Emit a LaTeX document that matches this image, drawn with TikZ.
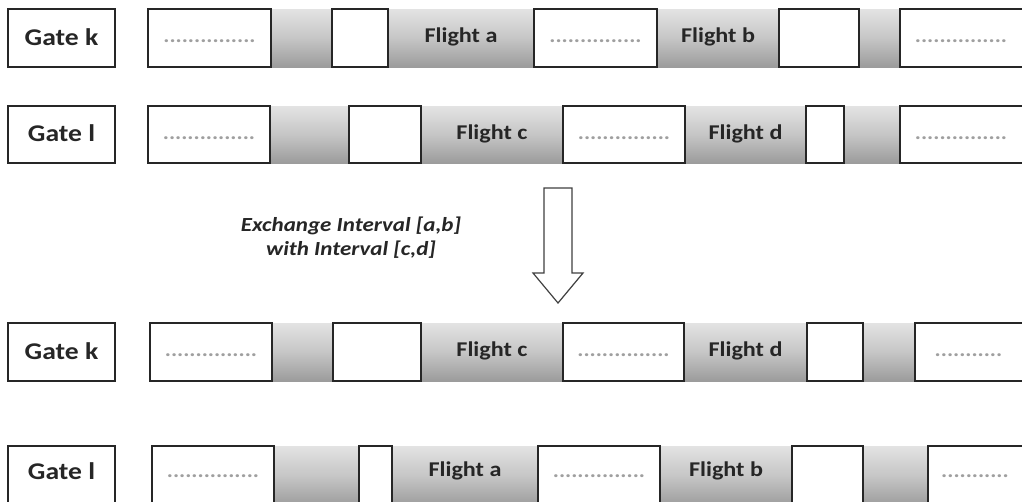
\documentclass[tikz,border=0pt]{standalone}
\usepackage{fontspec}
\setmainfont{Carlito}[FakeStretch=1.15]
\newcommand\cellbox[6]{\node[#5, minimum width={(#3-#2)*1pt}, minimum height={(#6)*1pt}] (#1) at (#2,#4) {};}
\newcommand\dotsA{...............}
\newcommand\dotsB{...........}
\begin{document}
\begin{tikzpicture}[x=1pt,y=-1pt,
  base/.style={anchor=north west, inner sep=0pt, outer sep=0pt},
  wbox/.style={base, draw=black!85, line width=1.3pt, fill=white},
  gbox/.style={base, top color=gray!22, bottom color=gray!78, middle color=gray!45},
  gate/.style={wbox},
  lbl/.style={font=\fontsize{21}{25}\selectfont\bfseries, text=black!85},
  gatelbl/.style={font=\fontsize{24}{28}\selectfont\bfseries, text=black!85},
  dotlbl/.style={font=\fontsize{20}{24}\selectfont\bfseries, text=gray!75}
]
\useasboundingbox (0,0) rectangle (1022,501);
\fill[white] (0,0) rectangle (1022,501);

% ---------- Row 1: Gate k ----------
\cellbox{g1}{8}{115}{9}{gate}{58}
\cellbox{r1g1}{271}{332}{9}{gbox}{58}
\cellbox{r1g2}{388}{534}{9}{gbox}{58}
\cellbox{r1g3}{657}{779}{9}{gbox}{58}
\cellbox{r1g4}{859}{900}{9}{gbox}{58}
\cellbox{r1w1}{148}{271}{9}{wbox}{58}
\cellbox{r1w2}{332}{388}{9}{wbox}{58}
\cellbox{r1w3}{534}{657}{9}{wbox}{58}
\cellbox{r1w4}{779}{859}{9}{wbox}{58}
\cellbox{r1w5}{900}{1026}{9}{wbox}{58}
\node[gatelbl] at ([yshift=1pt]g1.center) {Gate k};
\node[lbl] at ([yshift=1pt]r1g2.center) {Flight a};
\node[lbl] at ([yshift=1pt]r1g3.center) {Flight b};
\node[dotlbl] at (r1w1.center) {\vphantom{Gg}\dotsA};
\node[dotlbl] at (r1w3.center) {\vphantom{Gg}\dotsA};
\node[dotlbl] at ([xshift=-2pt]r1w5.center) {\vphantom{Gg}\dotsA};

% ---------- Row 2: Gate l ----------
\cellbox{g2}{8}{115}{106}{gate}{57}
\cellbox{r2g1}{270}{349}{106}{gbox}{57}
\cellbox{r2g2}{421}{563}{106}{gbox}{57}
\cellbox{r2g3}{685}{806}{106}{gbox}{57}
\cellbox{r2g4}{844}{900}{106}{gbox}{57}
\cellbox{r2w1}{148}{270}{106}{wbox}{57}
\cellbox{r2w2}{349}{421}{106}{wbox}{57}
\cellbox{r2w3}{563}{685}{106}{wbox}{57}
\cellbox{r2w4}{806}{844}{106}{wbox}{57}
\cellbox{r2w5}{900}{1026}{106}{wbox}{57}
\node[gatelbl] at ([yshift=1pt]g2.center) {Gate l};
\node[lbl] at ([yshift=1pt]r2g2.center) {Flight c};
\node[lbl] at ([yshift=1pt]r2g3.center) {Flight d};
\node[dotlbl] at (r2w1.center) {\vphantom{Gg}\dotsA};
\node[dotlbl] at (r2w3.center) {\vphantom{Gg}\dotsA};
\node[dotlbl] at ([xshift=-2pt]r2w5.center) {\vphantom{Gg}\dotsA};

% ---------- Arrow and caption ----------
\draw[line width=1.2pt, draw=black!75, fill=white, line join=miter]
  (544,188) -- (572,188) -- (572,273) -- (583,273) -- (558,303)
  -- (533,273) -- (544,273) -- cycle;
\node[font=\fontsize{20}{24}\selectfont\bfseries\itshape, text=black!85, align=center]
  (cap) at (351,238) {Exchange Interval [a,b]\\with Interval [c,d]};

% ---------- Row 3: Gate k ----------
\cellbox{g3}{8}{115}{323}{gate}{58}
\cellbox{r3g1}{272}{333}{323}{gbox}{58}
\cellbox{r3g2}{421}{563}{323}{gbox}{58}
\cellbox{r3g3}{684}{807}{323}{gbox}{58}
\cellbox{r3g4}{863}{915}{323}{gbox}{58}
\cellbox{r3w1}{150}{272}{323}{wbox}{58}
\cellbox{r3w2}{333}{421}{323}{wbox}{58}
\cellbox{r3w3}{563}{684}{323}{wbox}{58}
\cellbox{r3w4}{807}{863}{323}{wbox}{58}
\cellbox{r3w5}{915}{1026}{323}{wbox}{58}
\node[gatelbl] at ([yshift=1pt]g3.center) {Gate k};
\node[lbl] at ([yshift=1pt]r3g2.center) {Flight c};
\node[lbl] at ([yshift=1pt]r3g3.center) {Flight d};
\node[dotlbl] at (r3w1.center) {\vphantom{Gg}\dotsA};
\node[dotlbl] at (r3w3.center) {\vphantom{Gg}\dotsA};
\node[dotlbl] at ([xshift=-2pt]r3w5.center) {\vphantom{Gg}\dotsB};

% ---------- Row 4: Gate l ----------
\cellbox{g4}{8}{115}{446}{gate}{60}
\cellbox{r4g1}{274}{359}{446}{gbox}{60}
\cellbox{r4g2}{392}{538}{446}{gbox}{60}
\cellbox{r4g3}{660}{792}{446}{gbox}{60}
\cellbox{r4g4}{863}{928}{446}{gbox}{60}
\cellbox{r4w1}{152}{274}{446}{wbox}{60}
\cellbox{r4w2}{359}{392}{446}{wbox}{60}
\cellbox{r4w3}{538}{660}{446}{wbox}{60}
\cellbox{r4w4}{792}{863}{446}{wbox}{60}
\cellbox{r4w5}{928}{1026}{446}{wbox}{60}
\node[gatelbl] at ([yshift=5pt]g4.center) {Gate l};
\node[lbl] at ([yshift=5pt]r4g2.center) {Flight a};
\node[lbl] at ([yshift=5pt]r4g3.center) {Flight b};
\node[dotlbl] at ([yshift=3pt]r4w1.center) {\vphantom{Gg}\dotsA};
\node[dotlbl] at ([yshift=3pt]r4w3.center) {\vphantom{Gg}\dotsA};
\node[dotlbl] at ([xshift=-2pt,yshift=3pt]r4w5.center) {\vphantom{Gg}\dotsB};
\end{tikzpicture}
\end{document}
